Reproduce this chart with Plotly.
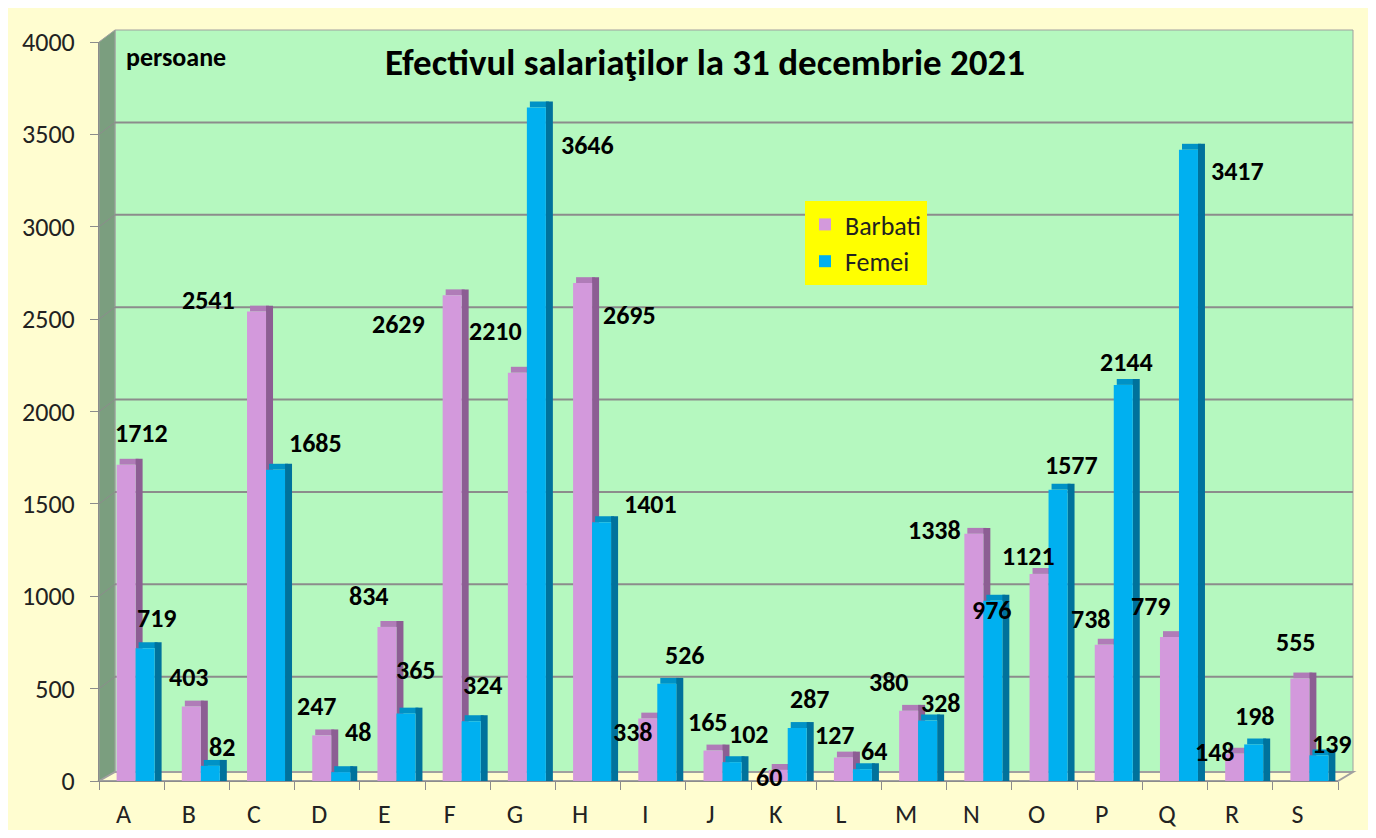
import plotly.graph_objects as go

# Date: efectivul salariatilor la 31 decembrie 2021, pe activitati CAEN (A-S)
categorii = ["A", "B", "C", "D", "E", "F", "G", "H", "I", "J",
             "K", "L", "M", "N", "O", "P", "Q", "R", "S"]
barbati = [1712, 403, 2541, 247, 834, 2629, 2210, 2695, 338, 165,
           60, 127, 380, 1338, 1121, 738, 779, 148, 555]
femei = [719, 82, 1685, 48, 365, 324, 3646, 1401, 526, 102,
         287, 64, 328, 976, 1577, 2144, 3417, 198, 139]

# pozitia etichetelor (pixeli fata de categorie / varful barei), ca in Excel 3D
lab_dx_b = [10, -8, -54, -10, -23, -59, -27, 41, -20, -11, -15, -14, -25, -45, -16, -19, -24, -25, -9]
lab_dy_b = [32, 30, 12, 29, 31, -29, 42, -32, -13, 29, -7, 23, 29, 4, 18, 26, 31, 2, 36]
lab_dx_f = [25, 25, 53, 31, 24, 25, 65, 62, 32, 30, 26, 25, 27, 13, 27, 17, 63, 15, 27]
lab_dy_f = [30, 19, 27, 40, 44, 36, -38, 18, 29, 28, 29, 18, 17, -9, 25, 23, -21, 28, 11]

FONT = "Carlito, Calibri, Lato, sans-serif"
OFF = 8  # marginea implicita a paginii html
W, H = 1376 - 2 * OFF, 838 - 2 * OFF
L, T = 99 - OFF, 42 - OFF
R = W - (1338 - OFF)
B = H - (781 - OFF)
PW, PH = W - L - R, H - T - B
cat_px = PW / len(categorii)
depth = 32  # ~6px de "adancime" in unitati de axa

def fx(px):
    # pixel din imaginea de referinta -> coordonata paper
    return (px - OFF - L) / PW

def fy(py):
    return (H - B - (py - OFF)) / PH

fig = go.Figure()

# fete superioare, laterale si frontale (efect 3D)
fig.add_trace(go.Bar(x=categorii, y=[depth] * len(barbati), base=barbati,
                     offset=-12 / cat_px, width=19 / cat_px, marker_color="#b07cb8",
                     marker_line_width=0, showlegend=False, hoverinfo="skip"))
fig.add_trace(go.Bar(x=categorii, y=[v + depth for v in barbati],
                     offset=4 / cat_px, width=7 / cat_px, marker_color="#8c5e93",
                     marker_line_width=0, showlegend=False, hoverinfo="skip"))
fig.add_trace(go.Bar(x=categorii, y=barbati, name="Barbati", legendgroup="b",
                     offset=-15 / cat_px, width=19 / cat_px, marker_color="#d399dc",
                     marker_line_width=0))
fig.add_trace(go.Bar(x=categorii, y=[depth] * len(femei), base=femei,
                     offset=7 / cat_px, width=19 / cat_px, marker_color="#0092c6",
                     marker_line_width=0, showlegend=False, hoverinfo="skip"))
fig.add_trace(go.Bar(x=categorii, y=[v + depth for v in femei],
                     offset=23 / cat_px, width=7 / cat_px, marker_color="#00729c",
                     marker_line_width=0, showlegend=False, hoverinfo="skip"))
fig.add_trace(go.Bar(x=categorii, y=femei, name="Femei", legendgroup="f",
                     offset=4 / cat_px, width=19 / cat_px, marker_color="#00b0f0",
                     marker_line_width=0))

# etichete de date
for i, c in enumerate(categorii):
    fig.add_annotation(x=c, y=barbati[i], text=str(barbati[i]), showarrow=False,
                       xshift=lab_dx_b[i], yshift=lab_dy_b[i],
                       font=dict(family=FONT, size=26, color="black", weight="bold"))
    fig.add_annotation(x=c, y=femei[i], text=str(femei[i]), showarrow=False,
                       xshift=lab_dx_f[i], yshift=lab_dy_f[i],
                       font=dict(family=FONT, size=26, color="black", weight="bold"))

shapes = []
# fundal exterior cu chenar
shapes.append(dict(type="rect", xref="paper", yref="paper", layer="below",
                   x0=fx(5), x1=fx(1369), y0=fy(834), y1=fy(6),
                   fillcolor="#fffdd0", line=dict(color="#a0a0a0", width=2)))
# peretele din spate
shapes.append(dict(type="rect", xref="paper", yref="paper", layer="below",
                   x0=fx(115), x1=fx(1353), y0=fy(772), y1=fy(30),
                   fillcolor="#b5f8bf", line=dict(color="#a0a0a0", width=1)))
# peretele stang
shapes.append(dict(type="path", xref="paper", yref="paper", layer="below",
                   path=f"M {fx(99)},{fy(781)} L {fx(115)},{fy(772)} L {fx(115)},{fy(30)} L {fx(99)},{fy(42)} Z",
                   fillcolor="#7b9e7f", line=dict(color="#a0a0a0", width=1)))
# podeaua
shapes.append(dict(type="path", xref="paper", yref="paper", layer="below",
                   path=f"M {fx(99)},{fy(781)} L {fx(115)},{fy(772)} L {fx(1353)},{fy(772)} L {fx(1338)},{fy(781)} Z",
                   fillcolor="#fffdd0", line=dict(color="#a0a0a0", width=2)))
# liniile de grila pe peretele din spate (ridicate cu ~12px, ca in perspectiva 3D)
for v in range(500, 4001, 500):
    shapes.append(dict(type="line", xref="paper", yref="y", layer="below",
                       x0=fx(115), x1=fx(1353), y0=12, y1=12, ysizemode="pixel",
                       yanchor=v, line=dict(color="#8c8c8c", width=2)))
    shapes.append(dict(type="line", xref="paper", yref="y", layer="below",
                       x0=fx(99), x1=fx(115), y0=0, y1=12, ysizemode="pixel",
                       yanchor=v, line=dict(color="#8c8c8c", width=1)))

fig.add_annotation(text="Efectivul salariaţilor la 31 decembrie 2021", xref="paper", yref="paper",
                   x=fx(705), y=fy(62), xanchor="center", yanchor="middle", showarrow=False,
                   font=dict(family=FONT, size=37, color="black", weight="bold"))
fig.add_annotation(text="persoane", xref="paper", yref="paper", x=fx(124), y=fy(57),
                   xanchor="left", yanchor="middle", showarrow=False,
                   font=dict(family=FONT, size=26, color="black", weight="bold"))

fig.update_layout(
    width=W, height=H,
    margin=dict(l=L, r=R, t=T, b=B),
    barmode="overlay",
    paper_bgcolor="white",
    plot_bgcolor="rgba(0,0,0,0)",
    shapes=shapes,
    font=dict(family=FONT, size=24, color="#222222"),
    legend=dict(x=fx(805), y=fy(201), xanchor="left", yanchor="top",
                bgcolor="#ffff00", font=dict(family=FONT, size=26, color="#222222"),
                tracegroupgap=0, itemwidth=30),
    xaxis=dict(range=[-0.5, len(categorii) - 0.5],
               showgrid=False, showline=True, linecolor="#8c8c8c", linewidth=1,
               ticks="outside", tickson="boundaries", ticklen=8, tickcolor="#8c8c8c",
               ticklabelstandoff=10, ticklabelshift=-8, automargin=False,
               tickfont=dict(family=FONT, size=26, color="#222222")),
    yaxis=dict(range=[0, 4000], dtick=500, showgrid=False, zeroline=False,
               showline=True, linecolor="#8c8c8c", linewidth=1, automargin=False,
               ticks="outside", ticklen=8, tickcolor="#8c8c8c", ticklabelstandoff=10,
               tickfont=dict(family=FONT, size=26, color="#222222")),
)

fig.write_html("out.html")
